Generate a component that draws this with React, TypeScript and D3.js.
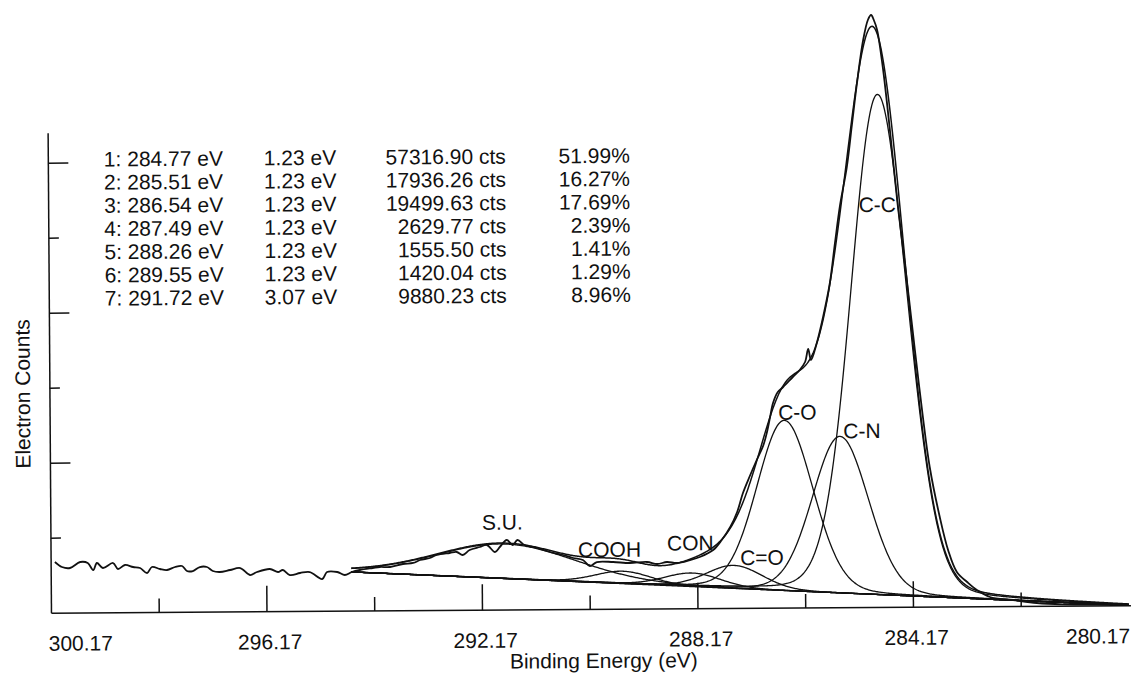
import React from 'react';
import * as d3 from 'd3';

// fitted components, as listed in the chart's table
const peakPositions = [284.77, 285.51, 286.54, 287.49, 288.26, 289.55, 291.72];
const peakFwhm = [1.23, 1.23, 1.23, 1.23, 1.23, 1.23, 3.07];
const peakAreas = [57316.9, 17936.26, 19499.63, 2629.77, 1555.5, 1420.04, 9880.23];
const peakShares = [51.99, 16.27, 17.69, 2.39, 1.41, 1.29, 8.96];
const peakNames = ['C-C', 'C-N', 'C-O', 'C=O', 'CON', 'COOH', 'S.U.'];
// gaussian / lorentzian mix of the line shape (estimated)
const lorentzShare = 0.1;

// linear background under the fit: [binding energy, counts]
const backgroundEnds: [number, number][] = [[294.6, 3420], [280.17, 30]];

const majorTicks = [296.17, 292.17, 288.17, 284.17];
const minorTicks = [298.17, 294.17, 290.17, 286.17, 282.17];
const tickLabels = [300.17, 296.17, 292.17, 288.17, 284.17, 280.17];
const countTicks = [6562.5, 13125, 19687.5, 26250, 32812.5, 39375];

const rawSpectrum: [number, number][] = [
  [300.1, 4474], [299.97, 4033], [299.82, 3940], [299.63, 4459], [299.49, 4366], [299.39, 3751],
  [299.32, 4361], [299.21, 3920], [299.02, 4351], [298.93, 3824], [298.8, 4169], [298.65, 3989],
  [298.52, 3897], [298.39, 3455], [298.3, 3978], [298.15, 3798], [298.02, 3706], [297.87, 3964],
  [297.74, 4047], [297.65, 3606], [297.54, 3602], [297.41, 3948], [297.28, 3944], [297.17, 3590],
  [297.04, 3498], [296.85, 3667], [296.66, 3836], [296.48, 3217], [296.35, 3476], [296.11, 3730],
  [295.96, 3463], [295.87, 3635], [295.74, 3193], [295.55, 3362], [295.37, 3443], [295.14, 2824],
  [295.05, 3433], [294.86, 3427], [294.72, 3159], [294.59, 3418], [294.44, 3588], [294.2, 3755],
  [294.07, 3839], [293.88, 3833], [293.64, 4087], [293.45, 4169], [293.32, 4427], [293.14, 4596],
  [293.01, 4854], [292.77, 5021], [292.64, 5104], [292.53, 4838], [292.4, 5271], [292.21, 5527],
  [292.08, 5698], [291.93, 5080], [291.84, 5515], [291.71, 6123], [291.6, 5682], [291.51, 6116],
  [291.38, 5674], [291.15, 5405], [290.91, 5047], [290.67, 4777], [290.48, 4508], [290.3, 4327],
  [290.17, 3798], [290.04, 4143], [289.74, 4134], [289.43, 4036], [289.11, 4113], [288.92, 3931],
  [288.74, 4100], [288.55, 4007], [288.31, 4261], [288.13, 4518], [287.88, 5122], [287.72, 5992],
  [287.56, 7124], [287.43, 8432], [287.32, 10092], [287.19, 11575], [287.06, 12970], [286.94, 14192],
  [286.87, 15327], [286.81, 16637], [286.75, 17948], [286.66, 18908], [286.56, 19342], [286.38, 20211],
  [286.25, 20819], [286.15, 21516], [286.09, 22652], [286.04, 21688], [285.93, 23171], [285.81, 25442],
  [285.68, 28413], [285.58, 31910], [285.48, 35232], [285.35, 38553], [285.25, 42225], [285.15, 45897],
  [285.03, 49656], [284.94, 51403], [284.88, 51839], [284.83, 51399], [284.77, 50523], [284.67, 47282],
  [284.54, 41502], [284.42, 35635], [284.32, 31519], [284.21, 26877], [284.11, 22499], [283.97, 16632],
  [283.85, 12253], [283.67, 7872], [283.52, 4979], [283.36, 3049], [283.17, 2167], [282.99, 1461],
  [282.75, 841], [282.32, 564], [281.88, 287], [281.39, 150], [280.76, 100], [280.17, 80],
];

// where the peak names sit (pixels)
const nameSpots: [number, number][] = [
  [860, 214], [843, 440], [778, 421], [739, 566], [666, 551], [577, 557], [481, 529],
];

const font = 'Liberation Sans, Arial, Helvetica, sans-serif';
const ink = '#111';

export default function App() {
  const x = d3.scaleLinear().domain([300.17, 280.17]).range([50, 1127.5]);
  const y = d3.scaleLinear().domain([0, 52500]).range([609.4, 9.4]);
  const bg = d3.scaleLinear()
    .domain(backgroundEnds.map(d => d[0]))
    .range(backgroundEnds.map(d => d[1]));

  const norm = Math.sqrt(Math.PI / (4 * Math.LN2));
  const heights = peakAreas.map((a, i) => a / (peakFwhm[i] * norm));
  const shape = (be: number, i: number) => {
    const u = (be - peakPositions[i]) / peakFwhm[i];
    const g = Math.exp(-4 * Math.LN2 * u * u);
    const l = 1 / (1 + 4 * u * u);
    return heights[i] * ((1 - lorentzShare) * g + lorentzShare * l);
  };

  const [fitStart, fitEnd] = backgroundEnds.map(d => d[0]);
  const steps = 800;
  const grid = d3.range(steps + 1).map(k => fitStart - (k * (fitStart - fitEnd)) / steps);

  const line = d3.line<[number, number]>().x(d => x(d[0])).y(d => y(d[1]));
  const rawLine = d3.line<[number, number]>()
    .x(d => x(d[0])).y(d => y(d[1]))
    .curve(d3.curveCatmullRom.alpha(0.5));

  const background = line(grid.map(be => [be, bg(be)]));
  const components = peakPositions.map((_, i) => line(grid.map(be => [be, bg(be) + shape(be, i)])));
  const envelope = line(grid.map(be => [be, bg(be) + d3.sum(peakPositions, (_, i) => shape(be, i))]));

  const base = y(0);
  const x0 = x(300.17);

  return (
    <svg width={1132} height={673} style={{ position: 'absolute', left: 0, top: 0, background: '#fff' }}>
      <rect width={1132} height={673} fill="#fff" />
      <g transform="rotate(-0.4 590 400)">
        {/* axes */}
        <g stroke={ink} strokeWidth={1.5} fill="none">
          <line x1={x0} x2={x0} y1={y(42000)} y2={base} />
          <line x1={x0} x2={x(280.17) + 2} y1={base} y2={base} />
          {majorTicks.map(t => <line key={t} x1={x(t)} x2={x(t)} y1={base} y2={base - 26} />)}
          {minorTicks.map(t => <line key={t} x1={x(t)} x2={x(t)} y1={base} y2={base - 14} />)}
          {countTicks.map((c, i) => (
            <line key={c} x1={x0} x2={x0 + (i % 2 ? 20 : 10)} y1={y(c)} y2={y(c)} />
          ))}
        </g>

        {/* fit */}
        <g stroke={ink} strokeWidth={1.3} fill="none">
          <path d={background || ''} />
          {components.map((d, i) => <path key={i} d={d || ''} />)}
          <path d={envelope || ''} strokeWidth={1.5} />
        </g>
        <path d={rawLine(rawSpectrum) || ''} stroke={ink} strokeWidth={1.8} fill="none" strokeLinejoin="round" />

        {/* text */}
        <g fontFamily={font} fontSize={21} fill={ink}>
          {tickLabels.map((t, i) => {
            const last = tickLabels.length - 1;
            const anchor = i === 0 ? 'start' : i === last ? 'end' : 'middle';
            const px = i === 0 ? x(t) - 3 : i === last ? x(t) + 1 : x(t) + 3;
            return <text key={t} x={px} y={647} textAnchor={anchor}>{t.toFixed(2)}</text>;
          })}
          <text x={602} y={668} textAnchor="middle">Binding Energy (eV)</text>
          <text transform="translate(30 390) rotate(-90)" textAnchor="middle">Electron Counts</text>

          {peakPositions.map((p, i) => {
            const by = 163 + i * 23.2;
            return (
              <g key={i}>
                <text x={105.5} y={by}>{`${i + 1}: ${p.toFixed(2)} eV`}</text>
                <text x={265.5} y={by}>{`${peakFwhm[i].toFixed(2)} eV`}</text>
                <text x={507.5} y={by} textAnchor="end">{`${peakAreas[i].toFixed(2)} cts`}</text>
                <text x={631.5} y={by} textAnchor="end">{`${peakShares[i].toFixed(2)}%`}</text>
              </g>
            );
          })}

          {peakNames.map((n, i) => (
            <text key={n} x={nameSpots[i][0]} y={nameSpots[i][1]}>{n}</text>
          ))}
        </g>
      </g>
    </svg>
  );
}
